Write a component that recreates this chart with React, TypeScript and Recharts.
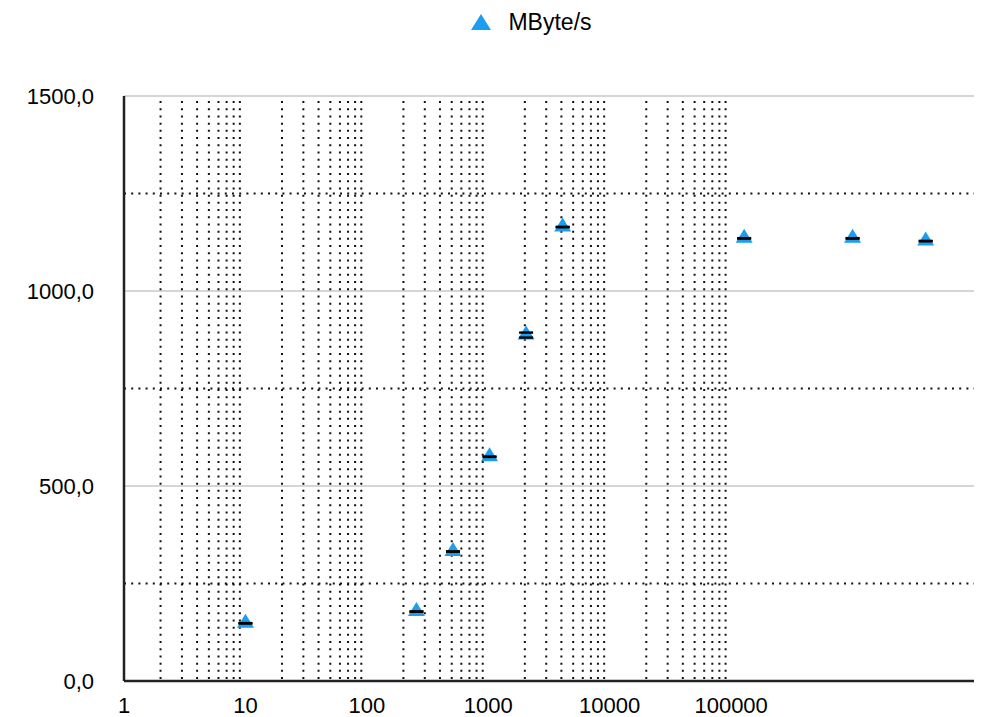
import React from "react";
import {
  ScatterChart,
  Scatter,
  XAxis,
  YAxis,
  ReferenceLine,
  Legend,
} from "recharts";

// block size (KB) vs throughput
const blockSizes = [10, 256, 512, 1024, 2048, 4096, 128000, 1000000, 4000000];
const throughput = [148, 178, 332, 575, 887, 1164, 1135, 1135, 1128];
const spread = [0.5, 0.5, 0.5, 0.5, 6.4, 0.5, 0.5, 0.5, 0.5];

const xTicks = [1, 10, 100, 1000, 10000, 100000];
const yTicks = [0, 500, 1000, 1500];
const yDotted = [250, 750, 1250];
const minorSteps = [2, 3, 4, 5, 6, 7, 8, 9];
const minorDecades = [1, 10, 100, 1000, 10000];

const FONT = "'Liberation Sans', Arial, Helvetica, sans-serif";
const BLUE = "#1b9df0";

const data = blockSizes.map((x, i) => ({ x, y: throughput[i] }));
// low / high marks of each measurement (drawn as black bars)
const barData = blockSizes.flatMap((x, i) => [
  { x, y: throughput[i] - spread[i] },
  { x, y: throughput[i] + spread[i] },
]);
const minorX: number[] = [];
minorDecades.forEach((d) => minorSteps.forEach((s) => minorX.push(s * d)));

const fmtY = (v: number) => v.toFixed(1).replace(".", ",");

function Tri(props: any) {
  const { cx, cy } = props;
  if (cx == null || cy == null) return <g />;
  return (
    <polygon
      points={`${cx},${cy - 9.5} ${cx + 8.5},${cy + 4.5} ${cx - 8.5},${cy + 4.5}`}
      fill={BLUE}
    />
  );
}

function Bar(props: any) {
  const { cx, cy } = props;
  if (cx == null || cy == null) return <g />;
  return <rect x={cx - 7} y={cy - 1.2} width={14} height={2.4} fill="#000" />;
}

function LegendBox() {
  return (
    <div
      style={{
        height: 40,
        display: "flex",
        justifyContent: "center",
        alignItems: "center",
        fontFamily: FONT,
        fontSize: 23,
        color: "#000",
      }}
    >
      <svg width={22} height={20} style={{ marginRight: 16, marginLeft: 72 }}>
        <polygon points="11,2 21,18 1,18" fill={BLUE} />
      </svg>
      <span>MByte/s</span>
    </div>
  );
}

export default function App() {
  return (
    <div style={{ position: "absolute", left: 0, top: 0, background: "#fff" }}>
      <ScatterChart
        width={990}
        height={717}
        margin={{ top: 56, right: 16, bottom: 0, left: 0 }}
        style={{ fontFamily: FONT }}
      >
        <Legend
          verticalAlign="top"
          content={() => <LegendBox />}
          wrapperStyle={{ top: 2, left: 0, width: 990 }}
        />
        <XAxis
          type="number"
          dataKey="x"
          scale="log"
          domain={[1, 10000000]}
          ticks={xTicks}
          allowDataOverflow
          tickLine={false}
          tickMargin={10}
          height={36}
          axisLine={{ stroke: "#222", strokeWidth: 2.5 }}
          tick={{ fill: "#000", fontSize: 22 }}
        />
        <YAxis
          type="number"
          dataKey="y"
          domain={[0, 1500]}
          ticks={yTicks}
          width={124}
          tickLine={false}
          tickMargin={24}
          tickFormatter={fmtY}
          axisLine={{ stroke: "#222", strokeWidth: 2.5 }}
          tick={{ fill: "#000", fontSize: 22 }}
        />
        {[500, 1000, 1500].map((v) => (
          <ReferenceLine key={"g" + v} y={v} stroke="#c8c8c8" strokeWidth={1.5} />
        ))}
        {yDotted.map((v) => (
          <ReferenceLine
            key={"d" + v}
            y={v}
            stroke="#111"
            strokeWidth={2}
            strokeDasharray="2 5.2"
          />
        ))}
        {minorX.map((v) => (
          <ReferenceLine
            key={"m" + v}
            segment={[
              { x: v, y: 5 },
              { x: v, y: 1487 },
            ]}
            stroke="#111"
            strokeWidth={2}
            strokeDasharray="2 5.2"
          />
        ))}
        <Scatter
          name="MByte/s"
          data={data}
          fill={BLUE}
          shape={<Tri />}
          isAnimationActive={false}
        />
        <Scatter
          name="range"
          data={barData}
          fill="#000"
          shape={<Bar />}
          legendType="none"
          isAnimationActive={false}
        />
      </ScatterChart>
    </div>
  );
}
